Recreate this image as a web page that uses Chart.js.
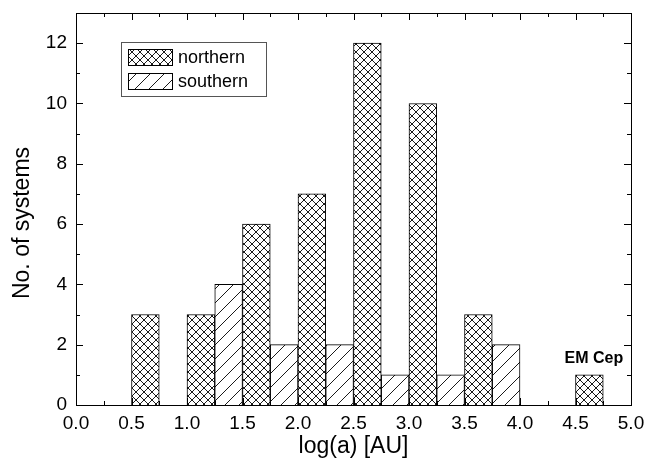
<!DOCTYPE html>
<html>
<head>
<meta charset="utf-8">
<script src="https://cdn.jsdelivr.net/npm/chart.js@4.4.0/dist/chart.umd.min.js"></script>
<style>
  html, body { margin: 0; padding: 0; background: #fff; }
  #wrap { width: 651px; height: 464px; }
</style>
</head>
<body>
<div id="wrap"><canvas id="grafico" width="651" height="464"></canvas></div>
<script>
// --- dados: bins de 0.25 em log(a) ---
const binLabels = ['0.00','0.25','0.50','0.75','1.00','1.25','1.50','1.75','2.00','2.25',
                   '2.50','2.75','3.00','3.25','3.50','3.75','4.00','4.25','4.50','4.75'];
const northern = [null, null, 3, null, 3, null, 6, null, 7, null,
                  12, null, 10, null, 3, null, null, null, 1, null];
const southern = [null, null, null, null, null, 4, null, 2, null, 2,
                  null, 1, null, 1, null, 2, null, null, null, null];
const xTicks = [0.0, 0.5, 1.0, 1.5, 2.0, 2.5, 3.0, 3.5, 4.0, 4.5, 5.0];
const yTicks = [0, 2, 4, 6, 8, 10, 12];

// --- padrões de hachura ---
function padraoCruzado() {
    const c = document.createElement('canvas');
    c.width = 8; c.height = 8;
    const g = c.getContext('2d');
    g.fillStyle = '#fff'; g.fillRect(0, 0, 8, 8);
    g.strokeStyle = '#000'; g.lineWidth = 0.9;
    g.beginPath();
    g.moveTo(0, 0); g.lineTo(8, 8);
    g.moveTo(0, 8); g.lineTo(8, 0);
    g.stroke();
    return g.createPattern(c, 'repeat');
}
function padraoDiagonal() {
    const s = 14;
    const c = document.createElement('canvas');
    c.width = s; c.height = s;
    const g = c.getContext('2d');
    g.fillStyle = '#fff'; g.fillRect(0, 0, s, s);
    g.strokeStyle = '#000'; g.lineWidth = 0.9;
    g.beginPath();
    g.moveTo(0, s); g.lineTo(s, 0);
    g.moveTo(-1, 1); g.lineTo(1, -1);
    g.moveTo(s - 1, s + 1); g.lineTo(s + 1, s - 1);
    g.stroke();
    return g.createPattern(c, 'repeat');
}
const hatchN = padraoCruzado();
const hatchS = padraoDiagonal();

const fonte = '"Liberation Sans", Arial, Helvetica, sans-serif';

// moldura, ticks para dentro, legenda, título do eixo y e rótulo
const molduraPlugin = {
    id: 'moldura',
    afterDraw(chart) {
        const ctx = chart.ctx;
        const a = chart.chartArea;
        const sx = chart.scales.x2;
        const sy = chart.scales.y;
        ctx.save();
        ctx.strokeStyle = '#000';
        ctx.lineWidth = 1;
        ctx.strokeRect(Math.round(a.left) + 0.5, Math.round(a.top) + 0.5,
                       Math.round(a.right - a.left), Math.round(a.bottom - a.top));
        ctx.beginPath();
        for (let v = 0; v <= 5.0001; v += 0.25) {
            const px = Math.round(sx.getPixelForValue(v)) + 0.5;
            const len = (Math.round(v * 4) % 2 === 0) ? 7 : 4;
            ctx.moveTo(px, a.bottom); ctx.lineTo(px, a.bottom - len);
            ctx.moveTo(px, a.top); ctx.lineTo(px, a.top + len);
        }
        for (let v = 0; v <= 13; v += 1) {
            const py = Math.round(sy.getPixelForValue(v)) + 0.5;
            const len = (v % 2 === 0) ? 7 : 4;
            ctx.moveTo(a.left, py); ctx.lineTo(a.left + len, py);
            ctx.moveTo(a.right, py); ctx.lineTo(a.right - len, py);
        }
        ctx.stroke();

        // título do eixo y (um pouco abaixo do centro, como no original)
        ctx.save();
        ctx.translate(23, 223);
        ctx.rotate(-Math.PI / 2);
        ctx.fillStyle = '#000';
        ctx.font = '23px ' + fonte;
        ctx.textAlign = 'center';
        ctx.textBaseline = 'middle';
        ctx.fillText('No. of systems', 0, 0);
        ctx.restore();

        // legenda
        const lx = 121, ly = 42, lw = 145, lh = 54;
        ctx.strokeStyle = '#555';
        ctx.strokeRect(lx + 0.5, ly + 0.5, lw, lh);
        const itens = [[hatchN, chart.data.datasets[0].label], [hatchS, chart.data.datasets[1].label]];
        itens.forEach((it, i) => {
            const by = ly + 7 + i * 24;
            ctx.fillStyle = it[0];
            ctx.fillRect(lx + 7, by, 45, 17);
            ctx.strokeStyle = '#000';
            ctx.strokeRect(lx + 7.5, by + 0.5, 44, 16);
            ctx.fillStyle = '#000';
            ctx.font = '18px ' + fonte;
            ctx.textBaseline = 'middle';
            ctx.textAlign = 'left';
            ctx.fillText(it[1], lx + 57, by + 9);
        });

        // EM Cep
        ctx.font = 'bold 16px ' + fonte;
        ctx.textAlign = 'center';
        ctx.textBaseline = 'middle';
        ctx.fillText('EM Cep', sx.getPixelForValue(4.665), sy.getPixelForValue(1.55));
        ctx.restore();
    }
};

new Chart(document.getElementById('grafico').getContext('2d'), {
    type: 'bar',
    data: {
        labels: binLabels,
        datasets: [
            { label: 'northern', data: northern, backgroundColor: hatchN,
              borderColor: '#000', borderWidth: 1, categoryPercentage: 1, barPercentage: 1, grouped: false },
            { label: 'southern', data: southern, backgroundColor: hatchS,
              borderColor: '#000', borderWidth: 1, categoryPercentage: 1, barPercentage: 1, grouped: false }
        ]
    },
    options: {
        responsive: false,
        animation: false,
        layout: { padding: { top: 13, right: 20, left: 0, bottom: 0 } },
        plugins: {
            legend: { display: false },
            tooltip: { enabled: false }
        },
        scales: {
            x: { type: 'category', display: false, offset: true },
            x2: {
                type: 'linear', position: 'bottom', min: 0, max: 5, offset: false,
                afterBuildTicks: (s) => { s.ticks = xTicks.map(v => ({ value: v })); },
                afterFit: (s) => { s.height = 59; s.paddingLeft = 0; s.paddingRight = 0; },
                grid: { display: false, drawTicks: false, offset: false },
                border: { display: false },
                ticks: {
                    color: '#000', padding: 7, maxRotation: 0,
                    font: { family: fonte, size: 19 },
                    callback: (v) => Number(v).toFixed(1)
                },
                title: {
                    display: true, text: 'log(a) [AU]', color: '#000',
                    font: { family: fonte, size: 23 }, padding: { top: 0 }
                }
            },
            y: {
                min: 0, max: 13,
                afterBuildTicks: (s) => { s.ticks = yTicks.map(v => ({ value: v })); },
                afterFit: (s) => { s.width = 76; s.paddingTop = 0; s.paddingBottom = 0; },
                grid: { display: false, drawTicks: false },
                border: { display: false },
                ticks: {
                    color: '#000', padding: 9,
                    font: { family: fonte, size: 19 }
                },
                title: { display: false }
            }
        }
    },
    plugins: [molduraPlugin]
});
</script>
</body>
</html>
